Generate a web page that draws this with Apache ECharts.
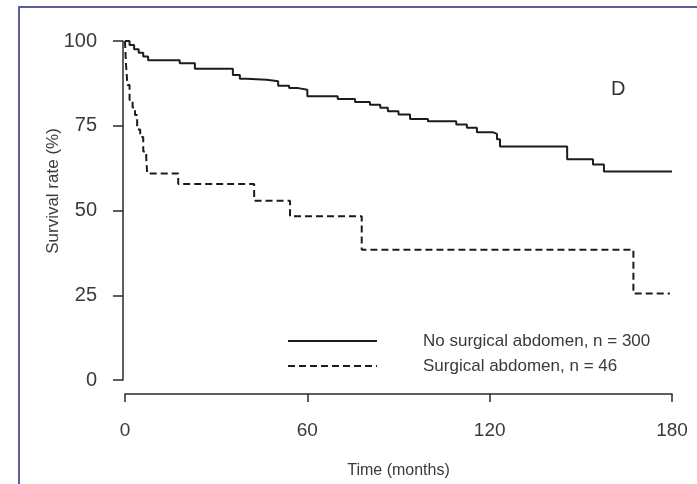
<!DOCTYPE html>
<html>
<head>
<meta charset="utf-8">
<script src="https://cdn.jsdelivr.net/npm/echarts@6/dist/echarts.min.js"></script>
<style>
  html, body { margin: 0; padding: 0; background: #ffffff; }
  #chart { width: 697px; height: 484px; }
</style>
</head>
<body>
<div id="chart"></div>
<script>
// Kaplan-Meier survival estimates (time in months, survival in %)
const noSurgicalMonths = [0, 1.5, 3, 4.5, 6, 7.6, 18, 23, 35.5, 37.8, 40, 46.6, 50.4, 54, 57, 60, 70, 75.7, 80.6, 84, 86.5, 90, 93.8, 99.7, 109, 112.5, 115.8, 121, 122.4, 123.4, 145.5, 154, 157.6, 180];
const noSurgicalSurvival = [100, 98.8, 97.6, 96.5, 95.4, 94.3, 93.4, 91.8, 90.0, 88.9, 88.6, 88.1, 86.8, 86.1, 85.6, 83.7, 82.9, 82.0, 81.2, 80.3, 79.3, 78.3, 77.0, 76.3, 75.4, 74.4, 73.1, 72.6, 71.0, 68.9, 65.1, 63.6, 61.5, 61.5];

const surgicalMonths = [0, 0.3, 0.8, 1.5, 2.5, 3.3, 4, 5, 6, 7, 7.3, 17.5, 42.5, 54.3, 77.9, 167.3, 179.3];
const surgicalSurvival = [100, 93.5, 87, 82.6, 80.4, 78.2, 73.9, 71.7, 67.4, 65.2, 60.9, 57.8, 52.9, 48.3, 38.4, 25.5, 25.5];

const seriesNames = ['No surgical abdomen, n = 300', 'Surgical abdomen, n = 46'];
const xTicks = [0, 60, 120, 180];
const yTicks = [0, 25, 50, 75, 100];

const zip = (xs, ys) => xs.map((x, i) => [x, ys[i]]);

const textFont = "'Liberation Sans', Arial, sans-serif";
const inkColor = '#1c1c1c';
const labelColor = '#3a3a3a';
const dashPattern = [7, 4];

const chart = echarts.init(document.getElementById('chart'), null, { renderer: 'canvas' });

// Key drawn as a line sample followed by its label, one row per group
const keyRows = seriesNames.map((name, i) => {
  const y = 341 + i * 25;
  return [
    {
      type: 'line',
      shape: { x1: 288, y1: y, x2: 377, y2: y },
      style: { stroke: inkColor, lineWidth: 2, lineDash: i === 0 ? null : dashPattern },
      silent: true
    },
    {
      type: 'text',
      x: 423,
      y: y,
      style: { text: name, fontFamily: textFont, fontSize: 17, fill: labelColor, verticalAlign: 'middle' },
      silent: true
    }
  ];
}).flat();

chart.setOption({
  backgroundColor: '#ffffff',
  animation: false,
  grid: { left: 125, right: 25, top: 41, bottom: 102, containLabel: false },
  xAxis: {
    type: 'value',
    min: xTicks[0],
    max: xTicks[xTicks.length - 1],
    interval: 60,
    offset: 14,
    name: 'Time (months)',
    nameLocation: 'middle',
    nameGap: 69,
    nameTextStyle: { fontFamily: textFont, fontSize: 16, color: labelColor },
    axisLine: { show: true, onZero: false, lineStyle: { color: '#2a2a2a', width: 1.5 } },
    axisTick: { show: true, length: 8, lineStyle: { color: '#2a2a2a', width: 1.5 } },
    axisLabel: { margin: 27, fontFamily: textFont, fontSize: 19, color: labelColor },
    splitLine: { show: false }
  },
  yAxis: {
    type: 'value',
    min: yTicks[0],
    max: yTicks[yTicks.length - 1],
    interval: 25,
    offset: 2,
    axisLine: { show: true, onZero: false, lineStyle: { color: '#2a2a2a', width: 1.5 } },
    axisTick: { show: true, length: 10, lineStyle: { color: '#2a2a2a', width: 1.5 } },
    axisLabel: { margin: 26, fontFamily: textFont, fontSize: 20, color: labelColor },
    splitLine: { show: false }
  },
  series: [
    {
      name: seriesNames[0],
      type: 'line',
      step: 'end',
      symbol: 'none',
      data: zip(noSurgicalMonths, noSurgicalSurvival),
      lineStyle: { color: inkColor, width: 2, type: 'solid' },
      itemStyle: { color: inkColor }
    },
    {
      name: seriesNames[1],
      type: 'line',
      step: 'end',
      symbol: 'none',
      data: zip(surgicalMonths, surgicalSurvival),
      lineStyle: { color: inkColor, width: 2, type: dashPattern },
      itemStyle: { color: inkColor }
    }
  ],
  graphic: [
    {
      type: 'rect',
      shape: { x: 19, y: 7, width: 720, height: 520 },
      style: { fill: 'none', stroke: '#5b5f9e', lineWidth: 2 },
      silent: true
    },
    {
      type: 'text',
      left: 611,
      top: 79,
      style: { text: 'D', fontFamily: textFont, fontSize: 20, fill: '#333333' },
      silent: true
    },
    {
      // vertical axis title
      type: 'text',
      x: 53,
      y: 191,
      rotation: Math.PI / 2,
      style: { text: 'Survival rate (%)', fontFamily: textFont, fontSize: 17, fill: labelColor, align: 'center', verticalAlign: 'middle' },
      silent: true
    }
  ].concat(keyRows)
});
</script>
</body>
</html>
